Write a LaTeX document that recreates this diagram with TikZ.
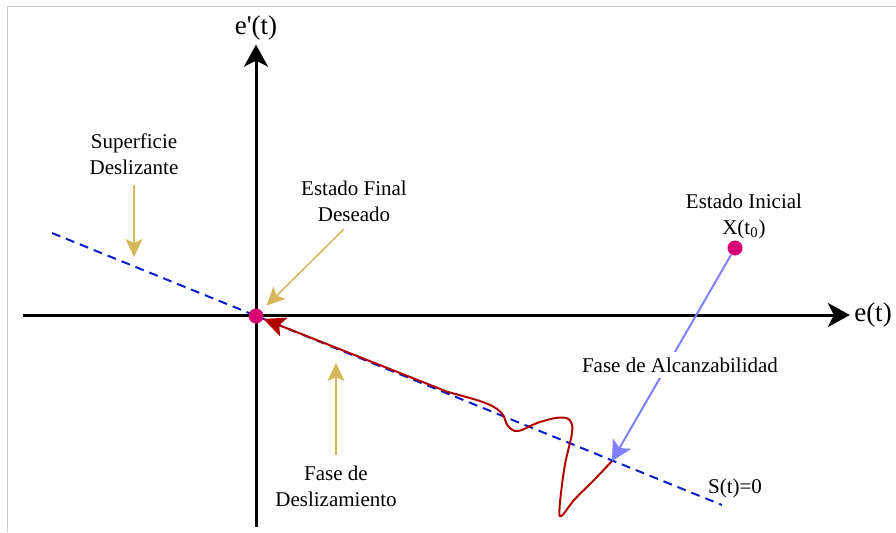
\documentclass[tikz,border=0pt]{standalone}
\usepackage{fontspec}
\setmainfont{Liberation Serif}
\usetikzlibrary{arrows.meta}
\definecolor{gold}{HTML}{D6B656}
\definecolor{dotpink}{HTML}{D80073}
\definecolor{trajred}{HTML}{B20000}
\definecolor{reachblue}{HTML}{7F7FFF}
\definecolor{surfblue}{HTML}{0A1FC8}
\definecolor{framegray}{HTML}{CCCCCC}
\begin{document}
\begin{tikzpicture}[x=0.5pt, y=-0.5pt,
  axis/.style={line width=1.5pt, -{Stealth[length=11pt, width=12pt, inset=3pt]}},
  lbl/.style={font=\fontsize{10.5}{13}\selectfont, align=center, inner sep=2pt},
  biglbl/.style={font=\fontsize{13.5}{16}\selectfont, inner sep=2pt},
  dot/.style={circle, fill=dotpink, inner sep=0pt, minimum size=7.5pt},
  pointer/.style={gold, line width=0.75pt, -{Stealth[length=9pt, width=8.5pt, inset=2pt]}},
  surface/.style={surfblue, line width=1pt, dash pattern=on 4.5pt off 3pt},
  reaching/.style={reachblue, line width=1pt, -{Stealth[length=10pt, width=10.5pt, inset=2.5pt]}},
  sliding/.style={trajred, line width=1pt, -{Stealth[length=11pt, width=10pt, inset=2.5pt]}}]
\useasboundingbox (0,0) rectangle (896,532);
\draw[framegray, line width=0.5pt] (7,532) -- (7,6) -- (896,6);
\node[biglbl] (et) at (873,315) {e(t)};
\node[biglbl] (ept) at (256,28) {e\textquotesingle(t)};
\coordinate (xleft) at (23,315);
\coordinate (ybot) at (256,527);
\coordinate (sleft) at (52,233);
\coordinate (sright) at (722,505);
\coordinate (reach) at (612,461);
\draw[axis] (xleft) -- (et);
\draw[axis] (ybot) -- (ept);
\draw[surface] (sleft) -- (sright);
\node[dot] (xfin) at (256,316) {};
\node[dot] (xinit) at (735,248) {};
\node[lbl] (sd) at (134,154) {Superficie\\Deslizante};
\node[lbl] (ef) at (354,201) {Estado Final\\Deseado};
\node[lbl] (ei) at (744,216) {Estado Inicial\\X(t\textsubscript{0})};
\node[lbl] (fd) at (336,486) {Fase de\\Deslizamiento};
\node[lbl] (st) at (735,488) {S(t)=0};
\coordinate (sdtip) at (134,257);
\coordinate (eftail) at (344,229);
\coordinate (fdtip) at (336,363);
\draw[pointer] ([yshift=-3pt]sd.south) -- (sdtip);
\draw[pointer, shorten >=3.5pt] (eftail) -- (xfin);
\draw[pointer] ([yshift=3pt]fd.north) -- (fdtip);
\draw[reaching] (xinit) -- (reach);
\node[lbl, fill=white, inner sep=3pt] (fa) at (680,365) {Fase de Alcanzabilidad};
\draw[sliding] plot[smooth, tension=0.6] coordinates {(reach) (594.7,479.3) (574.7,499.3) (561.3,516) (559.7,506) (564.7,466) (572,432.7) (569.7,420) (558,417.7) (538,422.7) (518,431) (508,426) (501.3,412.7) (484.7,402.7) (448,392)} -- (xfin);
\end{tikzpicture}
\end{document}
